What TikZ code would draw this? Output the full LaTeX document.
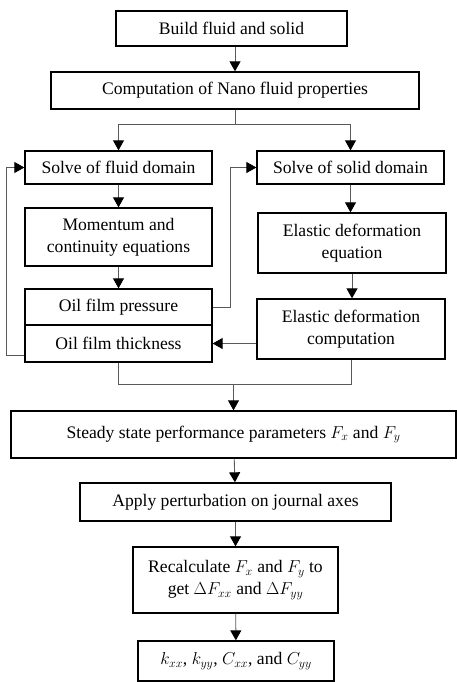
\documentclass[tikz,border=0pt]{standalone}
\usepackage{amsmath, amssymb}
\usepackage{fontspec}
\setmainfont{Liberation Serif}
\usepackage{xcolor}
\usepackage{tikz}
\usetikzlibrary{calc, arrows.meta, positioning}
\tikzset{
    boxnode/.style = {draw, rectangle, line width=1.3pt, inner sep = 0em, node distance=0em,
      font=\fontsize{17.6}{22}\selectfont},
    line/.style = {draw=black!65, line width=0.9pt},
    connect/.style = {line, -{Triangle[length=10pt, width=11pt, color=black]}},
    every text node part/.style={align=center}
}

\begin{document}
\begin{tikzpicture}
    \useasboundingbox (0,0) rectangle (457pt,-682pt);

    \node [name=build, boxnode, minimum width=231pt, minimum height=35pt] 
        at (231.5pt,-28.5pt) {Build fluid and solid}; 
    \node [name=nano, boxnode, minimum width=368pt, minimum height=37pt, 
        below of = build, xshift=3.5pt, yshift=-62pt] {Computation of Nano fluid properties}; 

    \node [name=fluid, boxnode, minimum width=187pt, minimum height=33pt, 
        below of = build, xshift=-113pt, yshift=-139pt] {Solve of fluid domain}; 
    \node [name=moment, boxnode, minimum width=187pt, minimum height=58pt, 
        below of = build, xshift=-113pt, yshift=-208.5pt] {Momentum and\\continuity equations}; 
    \node [name=press, boxnode, minimum width=187pt, minimum height=36pt, 
        below of = build, xshift=-113pt, yshift=-278.5pt] {Oil film pressure}; 
    \node [name=thick, boxnode, minimum width=187pt, minimum height=37pt, 
        below of = build, xshift=-113pt, yshift=-315pt] {Oil film thickness}; 

    \node [name=solid, boxnode, minimum width=187pt, minimum height=33pt, 
        below of = build, xshift=119pt, yshift=-139pt] {Solve of solid domain}; 
    \node [name=elaseq, boxnode, minimum width=188pt, minimum height=60pt, 
        below of = build, xshift=120.5pt, yshift=-214.5pt] {Elastic deformation\\equation}; 
    \node [name=elascomp, boxnode, minimum width=188pt, minimum height=60pt, 
        below of = build, xshift=119.5pt, yshift=-300.5pt] {Elastic deformation\\computation}; 

    \node [name=steady, boxnode, minimum width=445pt, minimum height=47pt, 
        below of = build, xshift=2pt, yshift=-406pt] {Steady state performance parameters $F_x$ and $F_y$}; 
    \node [name=perturb, boxnode, minimum width=311pt, minimum height=38pt, 
        below of = build, xshift=4pt, yshift=-473.5pt] {Apply perturbation on journal axes}; 
    \node [name=recalc, boxnode, minimum width=205pt, minimum height=66pt, 
        below of = build, xshift=4pt, yshift=-551.5pt] {Recalculate $F_x$ and $F_y$ to\\get $\Delta F_{xx}$ and $\Delta F_{yy}$}; 
    \node [name=coeff, boxnode, minimum width=196pt, minimum height=40pt, 
        below of = build, xshift=4.5pt, yshift=-632.5pt] {$k_{xx}$, $k_{yy}$, $C_{xx}$, and $C_{yy}$}; 

    % main branch
    \draw [connect] (build.south -| nano.north) -- (nano.north);
    \draw [line] (nano.south) -- ++(0,-15pt) coordinate (split);
    \draw [connect] (split) -| (fluid.north);
    \draw [connect] (split) -| (solid.north);

    \draw [connect] (fluid) -- (moment);
    \draw [connect] (moment) -- (press);
    \draw [connect] (solid.south) -- (solid.south |- elaseq.north);
    \draw [connect] (elaseq.south) -- (elaseq.south |- elascomp.north);
    \draw [connect] (elascomp.west |- thick.east) -- (thick.east);

    % feedback loops
    \draw [connect] (press.east) -- ++(18pt,0) |- (solid.west);
    \draw [connect] ([yshift=-12pt]thick.west) -- ++(-18pt,0) |- (fluid.west);

    % join and lower chain
    \draw [line] (thick.south) -- ++(0,-22pt) coordinate (join) -| (elascomp.south);
    \draw [connect] (join -| steady.north) -- (steady.north);
    \draw [connect] (steady) -- (perturb);
    \draw [connect] (perturb) -- (recalc);
    \draw [connect] (recalc) -- (coeff);
\end{tikzpicture}
\end{document}
